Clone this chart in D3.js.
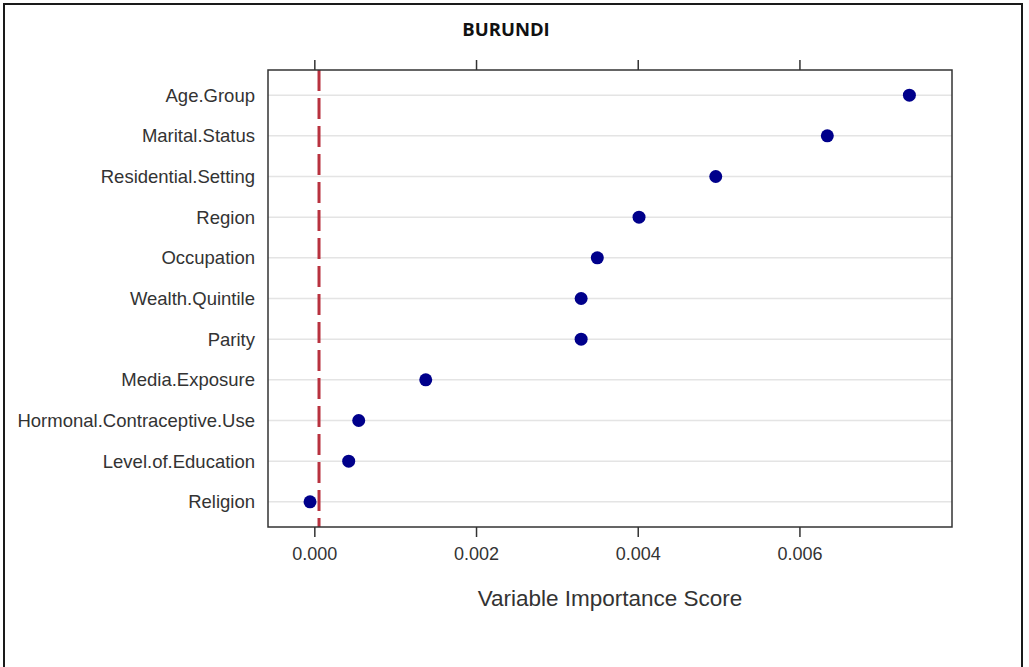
<!DOCTYPE html>
<html>
<head>
<meta charset="utf-8">
<script src="https://cdn.jsdelivr.net/npm/d3@7"></script>
<style>
  html, body { margin: 0; padding: 0; background: #fff; }
  svg { display: block; }
</style>
</head>
<body>
<svg id="chart" width="1029" height="667"></svg>
<script>
const title = "BURUNDI";
const xTitle = "Variable Importance Score";
const categories = ["Age.Group","Marital.Status","Residential.Setting","Region","Occupation",
  "Wealth.Quintile","Parity","Media.Exposure","Hormonal.Contraceptive.Use","Level.of.Education","Religion"];
const scores = [0.00736, 0.006345, 0.004965, 0.004016, 0.0035, 0.0033, 0.0033, 0.001378, 0.000549, 0.000425, -0.000053];
const tickValues = [0, 0.002, 0.004, 0.006];
const referenceLine = 0.000058;

const svg = d3.select("#chart");
const W = 1029, H = 667;
const plot = {left: 268, right: 952, top: 70, bottom: 527};

// outer border
svg.append("rect").attr("x", 4).attr("y", 4).attr("width", 1018).attr("height", H + 20)
  .attr("fill", "none").attr("stroke", "#1a1a1a").attr("stroke-width", 2);

const x = d3.scaleLinear().domain([-0.000573, 0.007887]).range([plot.left, plot.right]);
const y = d3.scalePoint().domain(categories).range([plot.top, plot.bottom]).padding(0.62);

// gridlines
svg.append("g").selectAll("line").data(categories).join("line")
  .attr("x1", plot.left).attr("x2", plot.right)
  .attr("y1", d => y(d)).attr("y2", d => y(d))
  .attr("stroke", "#e4e4e4").attr("stroke-width", 1.5);

// reference dashed line
svg.append("line")
  .attr("x1", x(referenceLine)).attr("x2", x(referenceLine))
  .attr("y1", plot.top).attr("y2", plot.bottom)
  .attr("stroke", "#b8323f").attr("stroke-width", 3)
  .attr("stroke-dasharray", "21,7");

// points
svg.append("g").selectAll("circle").data(categories).join("circle")
  .attr("cx", (d, i) => x(scores[i])).attr("cy", d => y(d)).attr("r", 6.5)
  .attr("fill", "#00008b");

// frame
svg.append("rect").attr("x", plot.left).attr("y", plot.top)
  .attr("width", plot.right - plot.left).attr("height", plot.bottom - plot.top)
  .attr("fill", "none").attr("stroke", "#333").attr("stroke-width", 1.5);

// bottom axis
const xb = svg.append("g").attr("transform", `translate(0,${plot.bottom})`)
  .call(d3.axisBottom(x).tickValues(tickValues).tickFormat(d3.format(".3f")).tickSize(10).tickPadding(10));
xb.select(".domain").remove();
xb.selectAll(".tick line").attr("stroke", "#333").attr("stroke-width", 1.5);
xb.selectAll(".tick text").attr("font-family", "Liberation Sans, Arial, sans-serif")
  .attr("font-size", 18).attr("fill", "#333");

// top axis (ticks only)
const xt = svg.append("g").attr("transform", `translate(0,${plot.top})`)
  .call(d3.axisTop(x).tickValues(tickValues).tickFormat("").tickSize(10));
xt.select(".domain").remove();
xt.selectAll(".tick line").attr("stroke", "#333").attr("stroke-width", 1.5);

// category labels
svg.append("g").selectAll("text").data(categories).join("text")
  .attr("x", 255).attr("y", d => y(d)).attr("dy", "0.35em")
  .attr("text-anchor", "end")
  .attr("font-family", "Liberation Sans, Arial, sans-serif").attr("font-size", 18.5)
  .attr("fill", "#333").text(d => d);

// axis title
svg.append("text").attr("x", (plot.left + plot.right) / 2).attr("y", 598).attr("dy", "0.35em")
  .attr("text-anchor", "middle")
  .attr("font-family", "Liberation Sans, Arial, sans-serif").attr("font-size", 22.5)
  .attr("fill", "#333").text(xTitle);

// title
svg.append("text").attr("x", 506).attr("y", 30).attr("dy", "0.35em")
  .attr("text-anchor", "middle")
  .attr("font-family", "Open Sans, Liberation Sans, sans-serif").attr("font-weight", "bold")
  .attr("font-size", 18.5).attr("fill", "#111").text(title);
</script>
</body>
</html>
